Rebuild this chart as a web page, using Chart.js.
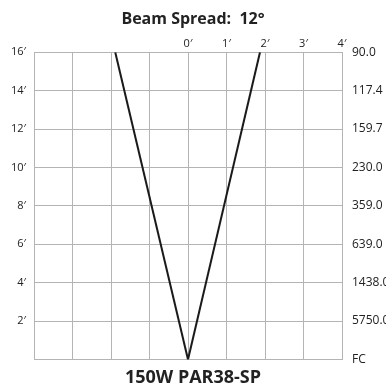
<!DOCTYPE html>
<html>
<head>
<meta charset="utf-8">
<script src="https://cdn.jsdelivr.net/npm/chart.js@4/dist/chart.umd.min.js"></script>
<style>
  html, body { margin: 0; padding: 0; background: #fff; }
  #wrap { width: 386px; height: 389px; position: relative; }
</style>
</head>
<body>
<div id="wrap"><canvas id="c" width="386" height="389"></canvas></div>
<script>
// Beam edges: lateral spread (feet) at each mounting distance (feet)
const distances = [0, 16];
const leftEdge = [0, -1.89];
const rightEdge = [0, 1.87];

// Axis labels
const distanceTicks = [0, 2, 4, 6, 8, 10, 12, 14, 16];
const footcandles = ['FC', '5750.0', '1438.0', '639.0', '359.0', '230.0', '159.7', '117.4', '90.0'];
const spreadTicks = [0, 1, 2, 3, 4];

const titleText = 'Beam Spread:  12°';
const lampText = '150W PAR38-SP';

const gridColor = '#b4b4b4';
const textColor = '#222';
const fontFamily = '"Open Sans", "Noto Sans", sans-serif';

function toPoints(xs, ys) {
  return xs.map((x, i) => ({ x: x, y: ys[i] }));
}

function fixWidth(w) { return (axis) => { axis.width = w; }; }
function fixHeight(h) { return (axis) => { axis.height = h; }; }

new Chart(document.getElementById('c'), {
  type: 'scatter',
  data: {
    datasets: [
      { data: toPoints(leftEdge, distances), showLine: true, borderColor: '#1a1a1a', borderWidth: 2, pointRadius: 0, tension: 0 },
      { data: toPoints(rightEdge, distances), showLine: true, borderColor: '#1a1a1a', borderWidth: 2, pointRadius: 0, tension: 0 }
    ]
  },
  options: {
    responsive: false,
    animation: false,
    layout: { padding: 0 },
    plugins: {
      legend: { display: false },
      tooltip: { enabled: false },
      title: {
        display: true,
        text: titleText,
        color: textColor,
        font: { family: fontFamily, size: 16, weight: 'bold' },
        padding: { top: 10, bottom: 0 }
      },
      subtitle: {
        display: true,
        position: 'bottom',
        text: lampText,
        color: textColor,
        font: { family: fontFamily, size: 18, weight: 'bold' },
        padding: { top: 4, bottom: 0 }
      }
    },
    scales: {
      x: {
        type: 'linear', position: 'bottom', min: -4, max: 4,
        afterBuildTicks: (axis) => { axis.ticks = [-4, -3, -2, -1, 0, 1, 2, 3, 4].map(v => ({ value: v })); },
        ticks: { display: false },
        grid: { color: gridColor, lineWidth: 1, drawTicks: false },
        border: { color: gridColor, width: 1 },
        afterFit: fixHeight(4)
      },
      xTop: {
        type: 'linear', position: 'top', min: -4, max: 4,
        afterBuildTicks: (axis) => { axis.ticks = spreadTicks.map(v => ({ value: v })); },
        ticks: { color: textColor, font: { family: fontFamily, size: 11 }, padding: 2, maxRotation: 0, callback: (v) => v + '′' },
        grid: { display: false, drawTicks: false },
        border: { display: false },
        afterFit: fixHeight(23)
      },
      y: {
        type: 'linear', position: 'left', min: 0, max: 16,
        afterBuildTicks: (axis) => { axis.ticks = distanceTicks.map(v => ({ value: v })); },
        ticks: { color: textColor, font: { family: fontFamily, size: 11 }, padding: 8, callback: (v) => v === 0 ? '' : v + '′' },
        grid: { color: gridColor, lineWidth: 1, drawTicks: false },
        border: { color: gridColor, width: 1 },
        afterFit: fixWidth(34)
      },
      yRight: {
        type: 'linear', position: 'right', min: 0, max: 16,
        afterBuildTicks: (axis) => { axis.ticks = distanceTicks.map(v => ({ value: v })); },
        ticks: { color: textColor, font: { family: fontFamily, size: 12 }, padding: 10, callback: (v, i) => footcandles[i] },
        grid: { display: false, drawTicks: false },
        border: { color: gridColor, width: 1 },
        afterFit: fixWidth(44)
      }
    }
  }
});
</script>
</body>
</html>
